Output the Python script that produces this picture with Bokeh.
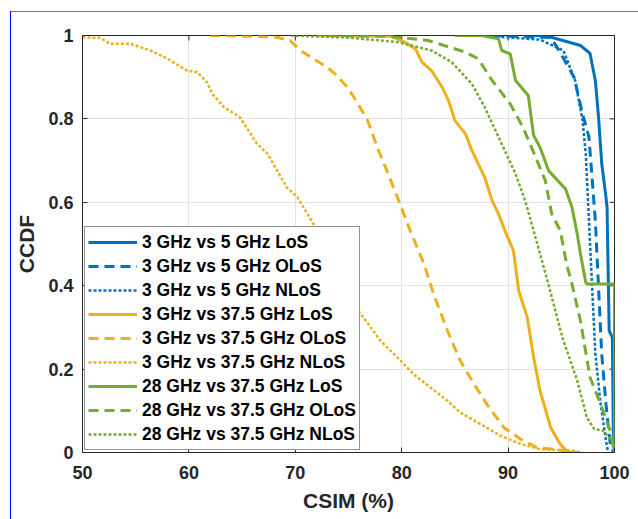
from bokeh.plotting import figure
from bokeh.models import Legend, LegendItem, FixedTicker, Range1d
from bokeh.embed import file_html
from bokeh.resources import INLINE

x_ticks = [50, 60, 70, 80, 90, 100]
y_ticks = [0, 0.2, 0.4, 0.6, 0.8, 1]
y_tick_labels = ["0", "0.2", "0.4", "0.6", "0.8", "1"]

# 3 GHz vs 5 GHz
b_los_x = [92.0, 93.5, 96.8, 97.7, 98.2, 98.5, 98.8, 99.2, 99.3, 99.5, 99.8, 99.9, 100.0]
b_los_y = [1.0, 1.0, 0.976, 0.957, 0.892, 0.804, 0.693, 0.612, 0.588, 0.292, 0.276, 0.02, 0.0]
b_olos_x = [88.5, 94.0, 94.6, 96.2, 97.0, 97.6, 98.2, 98.5, 98.8, 99.2, 99.6, 99.9]
b_olos_y = [1.0, 0.995, 0.972, 0.90, 0.812, 0.756, 0.556, 0.396, 0.236, 0.116, 0.02, 0.0]
b_nlos_x = [87.5, 93.0, 95.2, 96.3, 97.0, 97.3, 97.6, 97.9, 98.2, 98.7, 99.2, 99.4]
b_nlos_y = [1.0, 0.99, 0.964, 0.892, 0.796, 0.716, 0.556, 0.396, 0.236, 0.116, 0.028, 0.0]

# 3 GHz vs 37.5 GHz
o_los_x = [72.0, 79.0, 80.0, 81.3, 81.9, 82.8, 83.8, 84.4, 85.0, 86.0, 86.6, 87.2, 87.8, 88.5,
           89.1, 89.7, 90.5, 91.0, 91.8, 92.4, 93.0, 94.0, 94.9, 95.5, 96.0]
o_los_y = [1.0, 0.998, 0.988, 0.968, 0.936, 0.916, 0.876, 0.844, 0.796, 0.764, 0.724, 0.692, 0.66, 0.604,
           0.572, 0.532, 0.484, 0.388, 0.324, 0.228, 0.148, 0.06, 0.02, 0.004, 0.0]
o_olos_x = [62.0, 68.0, 69.5, 70.5, 71.7, 73.0, 73.9, 74.9, 75.8, 76.8, 77.7, 78.6, 79.6, 80.8,
            82.1, 83.0, 84.3, 85.5, 86.8, 88.0, 89.6, 91.2, 92.7, 95.5, 96.5]
o_olos_y = [1.0, 0.997, 0.988, 0.964, 0.944, 0.924, 0.904, 0.876, 0.84, 0.796, 0.732, 0.676, 0.612, 0.532,
            0.452, 0.38, 0.292, 0.22, 0.164, 0.116, 0.06, 0.032, 0.012, 0.004, 0.0]
o_nlos_x = [50.0, 51.7, 52.6, 54.5, 56.4, 58.0, 59.8, 60.8, 61.7, 62.2, 63.3, 64.8, 66.4, 67.4, 68.3,
            69.2, 70.2, 71.9, 73.5, 75.0, 76.4, 78.0, 79.9, 81.1, 82.7, 84.3, 85.5, 87.4, 89.3, 91.2,
            93.0, 96.2, 97.0]
o_nlos_y = [0.996, 0.994, 0.98, 0.98, 0.964, 0.944, 0.916, 0.912, 0.888, 0.86, 0.828, 0.804, 0.74, 0.716, 0.676,
            0.636, 0.612, 0.54, 0.44, 0.37, 0.324, 0.268, 0.22, 0.188, 0.156, 0.124, 0.096, 0.068, 0.04, 0.02,
            0.008, 0.004, 0.0]

# 28 GHz vs 37.5 GHz
g_los_x = [85.0, 87.5, 89.1, 89.4, 90.2, 90.7, 91.9, 92.4, 93.0, 93.8, 95.4, 96.0, 96.5, 96.8, 97.3,
           97.4, 100.0, 100.0]
g_los_y = [1.0, 1.0, 0.992, 0.964, 0.956, 0.892, 0.856, 0.76, 0.732, 0.676, 0.632, 0.588, 0.524, 0.476, 0.408,
           0.404, 0.404, 0.0]
g_olos_x = [73.0, 78.8, 82.5, 86.0, 87.2, 88.5, 90.2, 91.4, 92.2, 93.5, 94.1, 94.9, 95.5, 96.0, 96.8,
            97.7, 98.7, 99.6, 100.0]
g_olos_y = [1.0, 0.998, 0.988, 0.96, 0.944, 0.892, 0.836, 0.78, 0.732, 0.652, 0.572, 0.532, 0.452, 0.404, 0.316,
            0.18, 0.116, 0.052, 0.0]
g_nlos_x = [69.6, 75.0, 79.7, 82.8, 84.7, 86.6, 87.8, 89.4, 90.7, 91.6, 92.4, 93.7, 95.1, 96.5, 97.4,
            98.1, 99.0, 99.9, 100.0]
g_nlos_y = [1.0, 0.995, 0.984, 0.964, 0.936, 0.884, 0.828, 0.74, 0.668, 0.604, 0.532, 0.412, 0.276, 0.172, 0.084,
            0.056, 0.052, 0.02, 0.0]

labels = ["3 GHz vs 5 GHz LoS", "3 GHz vs 5 GHz OLoS", "3 GHz vs 5 GHz NLoS",
          "3 GHz vs 37.5 GHz LoS", "3 GHz vs 37.5 GHz OLoS", "3 GHz vs 37.5 GHz NLoS",
          "28 GHz vs 37.5 GHz LoS", "28 GHz vs 37.5 GHz OLoS", "28 GHz vs 37.5 GHz NLoS"]
series = [(b_los_x, b_los_y), (b_olos_x, b_olos_y), (b_nlos_x, b_nlos_y),
          (o_los_x, o_los_y), (o_olos_x, o_olos_y), (o_nlos_x, o_nlos_y),
          (g_los_x, g_los_y), (g_olos_x, g_olos_y), (g_nlos_x, g_nlos_y)]

BLUE, ORANGE, GREEN = "#0072BD", "#EDB120", "#77AC30"
colors = [BLUE] * 3 + [ORANGE] * 3 + [GREEN] * 3
styles = [("solid", 3), ("10 6", 3), ("3 2", 2.5)] * 3

FONT = "Liberation Sans"
AX = "#262626"

p = figure(width=638, height=519, output_backend="svg", toolbar_location=None,
           x_range=Range1d(50, 100), y_range=Range1d(0, 1),
           min_border_left=82, min_border_right=24, min_border_top=35, min_border_bottom=67)
p.background_fill_color = "white"
p.border_fill_alpha = 0
p.outline_line_color = AX
p.outline_line_width = 1
# outer blue figure frame (left and top edges visible)
p.styles = {
    "background-color": "white",
    "background-image": "linear-gradient(#0000ff, #0000ff), linear-gradient(#6f6fff, #6f6fff)",
    "background-size": "1px 600px, 700px 1px",
    "background-position": "10px 11px, 10px 11px",
    "background-repeat": "no-repeat",
}

for ax in (p.xaxis[0], p.yaxis[0]):
    ax.major_tick_in = 5
    ax.major_tick_out = 0
    ax.minor_tick_in = 0
    ax.minor_tick_out = 0
    ax.axis_line_color = AX
    ax.major_tick_line_color = AX
    ax.major_label_text_font = FONT
    ax.major_label_text_font_style = "bold"
    ax.major_label_text_font_size = "18px"
    ax.major_label_text_color = AX
    ax.axis_label_text_font = FONT
    ax.axis_label_text_font_style = "bold"
    ax.axis_label_text_font_size = "21px"
    ax.axis_label_text_color = AX

p.xaxis[0].ticker = FixedTicker(ticks=x_ticks)
p.yaxis[0].ticker = FixedTicker(ticks=y_ticks)
p.yaxis[0].major_label_overrides = {t: l for t, l in zip(y_ticks, y_tick_labels)}
p.xaxis[0].axis_label = "CSIM (%)"
p.yaxis[0].axis_label = "CCDF"
p.xaxis[0].major_label_standoff = 13
p.yaxis[0].major_label_standoff = 9
p.xaxis[0].axis_label_standoff = 7
p.yaxis[0].axis_label_standoff = 7

p.xgrid.ticker = FixedTicker(ticks=x_ticks)
p.ygrid.ticker = FixedTicker(ticks=y_ticks)
p.xgrid.grid_line_color = "#e3e3e3"
p.ygrid.grid_line_color = "#e3e3e3"

# box ticks on the top and right edges (5 px long, pointing inward)
tick_dy = 5 / 416.5
tick_dx = 5 / 10.64
p.segment(x0=x_ticks, y0=[1] * len(x_ticks), x1=x_ticks, y1=[1 - tick_dy] * len(x_ticks),
          line_color=AX, line_width=1)
p.segment(x0=[100] * len(y_ticks), y0=y_ticks, x1=[100 - tick_dx] * len(y_ticks), y1=y_ticks,
          line_color=AX, line_width=1)

items = []
for (xs, ys), lab, col, (dash, w) in zip(series, labels, colors, styles):
    r = p.line(xs, ys, line_color=col, line_width=w, line_dash=dash)
    items.append(LegendItem(label=lab, renderers=[r]))

legend = Legend(items=items, location=(2, 2), orientation="vertical",
                label_text_font=FONT, label_text_font_style="bold", label_text_font_size="17.5px",
                label_text_color="black", glyph_width=49, glyph_height=24, label_height=24,
                label_standoff=5, spacing=0, padding=3, margin=0,
                border_line_color=AX, border_line_width=1, background_fill_color="white",
                background_fill_alpha=1.0)
p.add_layout(legend, "center")

open("out.html", "w").write(file_html(p, INLINE))
